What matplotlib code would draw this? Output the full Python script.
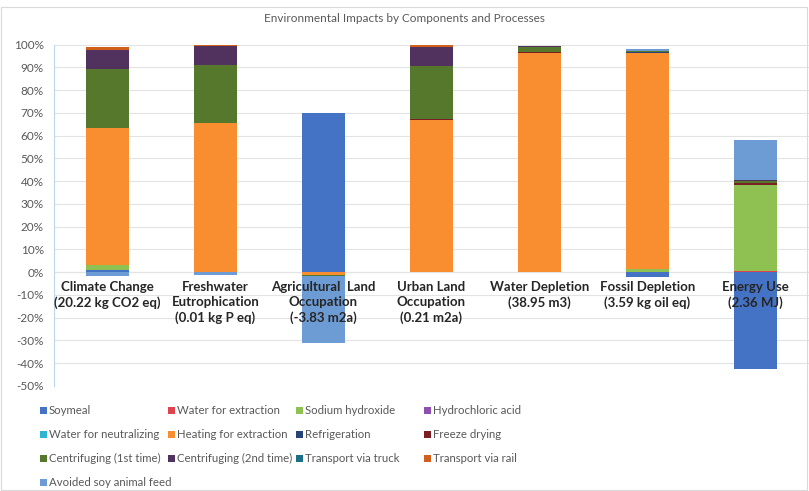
import matplotlib.pyplot as plt
import numpy as np
from matplotlib.patches import Rectangle

plt.rcParams["font.family"] = ["Lato", "DejaVu Sans"]

categories = [
    "Climate Change\n(20.22 kg CO2 eq)",
    "Freshwater\nEutrophication\n(0.01 kg P eq)",
    "Agricultural  Land\nOccupation\n(-3.83 m2a)",
    "Urban Land\nOccupation\n(0.21 m2a)",
    "Water Depletion\n(38.95 m3)",
    "Fossil Depletion\n(3.59 kg oil eq)",
    "Energy Use\n(2.36 MJ)",
]

series_names = [
    "Soymeal",
    "Water for extraction",
    "Sodium hydroxide",
    "Hydrochloric acid",
    "Water for neutralizing",
    "Heating for extraction",
    "Refrigeration",
    "Freeze drying",
    "Centrifuging (1st time)",
    "Centrifuging (2nd time)",
    "Transport via truck",
    "Transport via rail",
    "Avoided soy animal feed",
]

series_colors = [
    "#4472C4", "#E0434F", "#8FC152", "#8E4FB0", "#2FB5D2", "#F88E2F",
    "#264478", "#7B1F22", "#56782C", "#51325F", "#1B6F86", "#D0601A",
    "#6D9BD3",
]

# percent contribution per category
soymeal = [1.2, 0, 69.8, 0, 0, -2.3, -42.5]
water_extraction = [0, 0, 0, 0, 0, 0, 0.5]
sodium_hydroxide = [1.8, 0, 0, 0, 0, 1.6, 38.0]
hydrochloric_acid = [0, 0, 0, 0, 0, 0, 0]
water_neutralizing = [0, 0, 0, 0, 0, 0, 0]
heating = [60.2, 65.7, -1.2, 67.0, 96.3, 94.6, 0]
refrigeration = [0, 0, 0, 0, 0, 0.4, 0]
freeze_drying = [0, 0, 0, 0.3, 0.3, 0, 0.6]
centrifuging_1 = [26.0, 25.3, -0.6, 23.5, 2.2, 0.6, 1.2]
centrifuging_2 = [8.6, 8.4, 0, 8.0, 0.5, 0, 0.4]
transport_truck = [0, 0, 0, 0, 0, 0, 0]
transport_rail = [1.0, 0.3, 0, 1.2, 0.3, 0, 0]
avoided_soy = [-1.5, -1.3, -29.2, 0, 0, 1.0, 17.3]

series_values = [
    soymeal, water_extraction, sodium_hydroxide, hydrochloric_acid,
    water_neutralizing, heating, refrigeration, freeze_drying,
    centrifuging_1, centrifuging_2, transport_truck, transport_rail,
    avoided_soy,
]

W, H = 809, 491
fig = plt.figure(figsize=(W / 100, H / 100), dpi=100)
ax = fig.add_axes([53.5 / W, 1 - 386 / H, 756 / W, (386 - 44.7) / H])

x = np.arange(len(categories))
pos_base = np.zeros(len(categories))
neg_base = np.zeros(len(categories))
for name, vals, color in zip(series_names, series_values, series_colors):
    v = np.array(vals, dtype=float)
    bottom = np.where(v >= 0, pos_base, neg_base)
    ax.bar(x, v, 0.4, bottom=bottom, color=color, label=name, zorder=2)
    pos_base += np.clip(v, 0, None)
    neg_base += np.clip(v, None, 0)

ax.set_xlim(-0.5, len(categories) - 0.5)
ax.set_ylim(-50, 100)
ax.set_yticks(np.arange(-50, 101, 10))
ax.set_yticklabels([f"{t}%" for t in range(-50, 101, 10)])
ax.tick_params(axis="y", length=0, labelsize=8.5, labelcolor="#595959", pad=7)
ax.set_xticks([])
ax.grid(axis="y", color="#E3E3E3", linewidth=0.8, zorder=0)
ax.axhline(0, color="#D0D0D0", linewidth=0.8, zorder=1)
for s in ["top", "right", "bottom"]:
    ax.spines[s].set_visible(False)
ax.spines["left"].set_color("#BDD7EE")

for i, lab in enumerate(categories):
    ax.text(i, -4.0, lab, ha="center", va="top", fontsize=9.5, fontweight="bold",
            color="#262626", linespacing=1.3, zorder=5)

fig.text(0.5, 1 - 18 / H, "Environmental Impacts by Components and Processes",
         ha="center", va="center", fontsize=8.5, color="#595959")

# legend laid out row by row like the original
leg_cols = [43, 171, 299, 427]
leg_rows = [410, 434, 458, 482]
for k, (name, color) in enumerate(zip(series_names, series_colors)):
    cx = leg_cols[k % 4]
    cy = leg_rows[k // 4]
    fig.patches.append(Rectangle(((cx - 3.5) / W, 1 - (cy + 3.5) / H), 7 / W, 7 / H,
                                 transform=fig.transFigure, facecolor=color,
                                 edgecolor="none"))
    fig.text((cx + 6) / W, 1 - cy / H, name, ha="left", va="center",
             fontsize=8.2, color="#595959")

fig.patches.append(Rectangle((1 / W, 1 / H), 1 - 3 / W, 1 - 8 / H,
                             transform=fig.transFigure, fill=False,
                             edgecolor="#D9D9D9", linewidth=0.8))

fig.savefig("out.png", dpi=100)
